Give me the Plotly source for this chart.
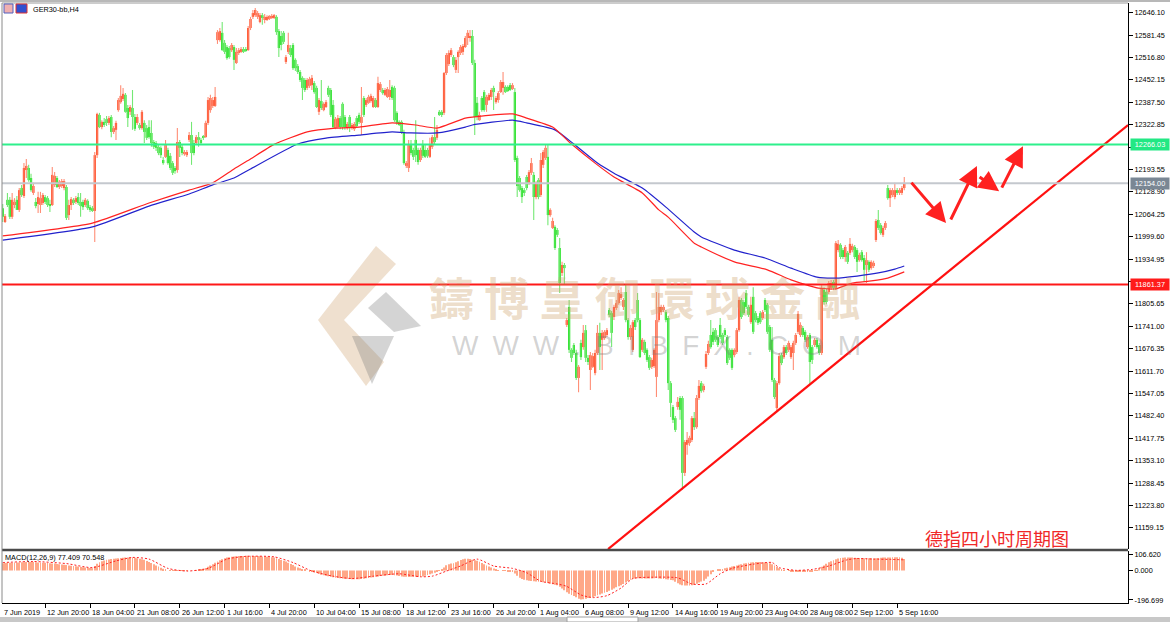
import plotly.graph_objects as go

# ---------------- data (GER30 H4) ----------------
opens = [
12082,12042,12106,12106,12057,12091,12106,12077,12140,12117,
12192,12198,12169,12126,12100,12094,12091,12097,12114,12111,
12094,12091,12149,12169,12143,12146,12140,12143,12062,12091,
12106,12100,12114,12100,12100,12091,12103,12085,12082,12074,
12235,12351,12316,12331,12339,12328,12345,12302,12308,12365,
12388,12397,12409,12371,12360,12371,12345,12328,12322,12313,
12328,12313,12316,12299,12273,12270,12259,12256,12221,12230,
12250,12233,12212,12198,12192,12273,12259,12238,12235,12279,
12293,12270,12270,12287,12279,12287,12287,12328,12365,12377,
12377,12567,12567,12588,12559,12547,12544,12538,12547,12501,
12530,12533,12541,12541,12538,12602,12634,12639,12634,12619,
12639,12625,12625,12628,12631,12631,12634,12593,12579,12588,
12504,12533,12544,12553,12510,12492,12475,12458,12452,12429,
12435,12437,12443,12429,12360,12391,12365,12374,12429,12423,
12380,12313,12316,12342,12383,12345,12313,12345,12313,12310,
12342,12351,12328,12400,12380,12386,12391,12374,12394,12374,
12423,12423,12409,12403,12403,12432,12429,12357,12331,12331,
12302,12204,12198,12264,12250,12279,12250,12221,12264,12250,
12250,12230,12259,12287,12285,12360,12360,12357,12472,12498,
12524,12518,12481,12518,12530,12533,12547,12573,12573,12579,
12501,12386,12336,12400,12417,12380,12394,12403,12429,12388,
12394,12417,12429,12432,12432,12437,12426,12417,12227,12169,
12140,12134,12172,12155,12184,12178,12114,12163,12120,12207,
12227,12230,12062,12025,12028,12019,11967,11895,11918,11745,
11797,11673,11687,11664,11592,11693,11681,11730,11650,11615,
11624,11606,11664,11722,11702,11707,11716,11788,11779,11768,
11794,11808,11823,11797,11840,11759,11710,11673,11759,11817,
11759,11673,11696,11673,11652,11624,11626,11595,11759,11782,
11788,11782,11765,11577,11508,11476,11508,11534,11534,11318,
11399,11404,11413,11476,11450,11534,11577,11557,11624,11664,
11716,11725,11730,11710,11745,11716,11730,11710,11673,11673,
11658,11667,11730,11817,11811,11837,11797,11753,11826,11779,
11765,11779,11765,11817,11803,11739,11702,11586,11505,11577,
11658,11652,11681,11673,11652,11664,11693,11725,11716,11736,
11725,11681,11716,11681,11687,11702,11687,11664,11846,11840,
11840,11852,11869,11852,11961,11976,11961,11941,11953,11953,
11961,11970,11961,11932,11955,11938,11918,11927,11909,11915,
11990,12048,12033,12005,12025,12140,12111,12120,12114,12134,
12126,12126,12140]

highs = [
12094,12065,12126,12114,12126,12111,12117,12140,12149,12212,
12224,12207,12181,12155,12111,12129,12129,12126,12120,12117,
12106,12201,12186,12175,12163,12166,12166,12149,12106,12114,
12111,12117,12126,12126,12106,12111,12108,12091,12088,12244,
12357,12357,12336,12342,12348,12348,12351,12319,12334,12400,
12437,12429,12414,12380,12380,12423,12354,12354,12328,12365,
12336,12322,12336,12336,12279,12276,12264,12261,12230,12279,
12256,12241,12218,12204,12313,12279,12264,12250,12250,12302,
12331,12279,12293,12302,12285,12293,12334,12403,12409,12403,
12432,12596,12602,12619,12567,12553,12550,12559,12553,12544,
12544,12547,12547,12547,12608,12634,12654,12660,12651,12645,
12645,12642,12639,12639,12642,12642,12639,12599,12593,12593,
12524,12588,12553,12559,12515,12498,12481,12463,12458,12458,
12461,12466,12449,12435,12400,12452,12388,12394,12435,12429,
12394,12345,12351,12348,12388,12351,12331,12351,12328,12331,
12348,12357,12432,12406,12400,12409,12412,12406,12400,12461,
12446,12429,12429,12432,12452,12437,12435,12362,12336,12336,
12308,12218,12279,12279,12256,12336,12256,12256,12279,12264,
12256,12285,12293,12345,12322,12365,12365,12475,12530,12538,
12544,12524,12518,12538,12553,12556,12579,12596,12596,12596,
12510,12403,12360,12406,12423,12409,12414,12429,12435,12406,
12420,12452,12475,12437,12437,12443,12443,12429,12233,12175,
12146,12140,12178,12192,12227,12186,12160,12169,12241,12250,
12267,12264,12082,12054,12033,12025,11996,11927,11924,11765,
11817,11678,11693,11673,11629,11702,11745,11745,11658,11667,
11664,11673,11745,11751,11730,11730,11736,11794,11785,11803,
11817,11846,11854,11823,11860,11765,11745,11759,11765,11837,
11765,11707,11702,11678,11658,11650,11678,11840,11837,11803,
11803,11788,11771,11583,11514,11482,11537,11540,11540,11413,
11436,11425,11482,11494,11543,11586,11583,11575,11670,11699,
11759,11736,11736,11716,11765,11722,11736,11716,11678,11678,
11678,11736,11826,11823,11817,11846,11803,11826,11854,11785,
11771,11785,11788,11823,11808,11745,11739,11592,11583,11664,
11664,11687,11687,11699,11687,11699,11722,11785,11753,11742,
11730,11716,11722,11687,11707,11707,11693,11860,11854,11849,
11872,11875,11875,11987,11990,11981,11967,11976,11958,11996,
11979,11976,11967,11953,11961,11947,11955,11932,11932,11930,
12051,12077,12039,12031,12045,12149,12140,12140,12155,12140,
12140,12146,12172]

lows = [
12042,12039,12085,12051,12051,12082,12077,12071,12114,12111,
12169,12158,12129,12120,12082,12068,12068,12091,12094,12085,
12071,12088,12143,12140,12137,12140,12134,12048,12048,12077,
12091,12094,12091,12057,12077,12085,12077,12071,12071,11984,
12227,12313,12310,12316,12319,12322,12287,12296,12279,12360,
12383,12391,12357,12316,12351,12308,12305,12322,12308,12308,
12270,12279,12282,12259,12253,12247,12235,12227,12207,12227,
12207,12192,12178,12181,12184,12230,12235,12233,12230,12273,
12207,12235,12264,12259,12264,12279,12285,12322,12357,12371,
12374,12556,12562,12536,12527,12510,12513,12533,12481,12498,
12524,12530,12530,12533,12536,12596,12628,12634,12628,12616,
12611,12616,12622,12625,12628,12628,12582,12518,12538,12556,
12498,12527,12518,12481,12478,12469,12446,12394,12417,12423,
12429,12423,12412,12371,12351,12365,12362,12371,12403,12345,
12313,12310,12313,12310,12308,12308,12308,12302,12308,12305,
12313,12325,12293,12345,12374,12383,12386,12371,12371,12371,
12417,12409,12406,12400,12394,12394,12331,12322,12319,12296,
12207,12198,12186,12235,12221,12215,12207,12215,12227,12227,
12227,12227,12253,12267,12279,12348,12345,12351,12466,12492,
12518,12489,12472,12472,12524,12524,12544,12553,12562,12495,
12293,12336,12334,12360,12360,12360,12391,12394,12365,12383,
12386,12414,12409,12414,12417,12420,12423,12215,12114,12129,
12097,12117,12134,12149,12178,12048,12108,12108,12114,12198,
12221,12033,12057,12022,11961,11999,11837,11886,11860,11739,
11664,11638,11658,11586,11551,11644,11673,11638,11629,11557,
11621,11600,11658,11615,11615,11702,11710,11768,11681,11759,
11788,11803,11817,11788,11753,11702,11702,11667,11730,11753,
11650,11667,11658,11638,11615,11618,11621,11537,11753,11774,
11782,11753,11557,11479,11462,11436,11500,11471,11269,11309,
11370,11396,11407,11442,11445,11528,11549,11551,11618,11658,
11676,11687,11696,11681,11704,11687,11710,11629,11644,11615,
11652,11661,11725,11762,11774,11791,11768,11748,11719,11753,
11745,11748,11759,11782,11719,11667,11580,11531,11494,11572,
11629,11647,11658,11667,11647,11615,11687,11719,11710,11710,
11696,11676,11572,11632,11681,11676,11658,11658,11803,11805,
11834,11846,11846,11846,11955,11935,11935,11927,11921,11947,
11955,11935,11898,11927,11927,11869,11866,11898,11904,11909,
11984,12019,12005,11999,12019,12106,12085,12114,12108,12120,
12120,12120,12134]

closes = [
12057,12059,12091,12057,12106,12100,12077,12134,12120,12198,
12204,12163,12134,12146,12088,12114,12111,12120,12100,12091,
12088,12178,12175,12143,12158,12160,12160,12054,12091,12108,
12097,12111,12097,12088,12085,12106,12082,12077,12074,12235,
12354,12316,12331,12322,12328,12342,12302,12313,12328,12394,
12406,12412,12360,12342,12374,12345,12311,12345,12313,12360,
12302,12285,12287,12270,12259,12256,12241,12235,12212,12264,
12212,12198,12184,12189,12273,12256,12241,12244,12244,12293,
12241,12241,12287,12279,12270,12285,12328,12394,12400,12394,
12403,12590,12593,12538,12533,12515,12518,12553,12510,12533,
12538,12541,12533,12536,12602,12628,12645,12654,12645,12639,
12631,12634,12634,12637,12637,12639,12590,12544,12553,12562,
12518,12553,12524,12486,12486,12475,12452,12429,12423,12452,
12455,12458,12417,12374,12394,12371,12383,12388,12409,12351,
12316,12339,12342,12316,12316,12316,12325,12313,12322,12325,
12319,12331,12345,12351,12394,12403,12406,12400,12374,12443,
12440,12414,12423,12426,12423,12400,12336,12328,12322,12302,
12212,12212,12264,12241,12230,12235,12215,12250,12233,12230,
12233,12264,12287,12273,12308,12351,12351,12472,12524,12530,
12538,12495,12510,12533,12547,12550,12573,12588,12579,12501,
12345,12348,12351,12365,12365,12403,12409,12423,12417,12400,
12414,12446,12446,12417,12420,12423,12437,12221,12146,12134,
12114,12126,12140,12186,12212,12114,12155,12114,12221,12244,
12256,12062,12077,12045,11967,12005,11866,11918,11909,11759,
11673,11650,11664,11592,11624,11652,11722,11650,11638,11658,
11655,11664,11722,11681,11722,11725,11730,11774,11722,11797,
11808,11837,11834,11817,11759,11710,11736,11753,11739,11759,
11652,11702,11664,11644,11621,11644,11673,11759,11797,11797,
11797,11759,11577,11520,11471,11442,11523,11500,11318,11407,
11413,11419,11476,11450,11534,11569,11554,11569,11661,11690,
11681,11696,11702,11687,11710,11693,11716,11635,11650,11621,
11673,11730,11817,11768,11779,11797,11774,11803,11725,11759,
11751,11753,11782,11788,11725,11673,11586,11537,11577,11655,
11635,11681,11664,11693,11681,11693,11716,11777,11745,11716,
11702,11710,11638,11644,11702,11681,11664,11852,11811,11811,
11866,11866,11852,11981,11979,11941,11941,11970,11927,11979,
11973,11941,11927,11947,11932,11904,11932,11904,11927,11924,
12045,12025,12010,12025,12039,12111,12134,12134,12134,12126,
12134,12140,12154]

macd_hist = [
49,50,51,52,52,53,54,54,55,55,
56,56,56,56,55,54,53,52,51,50,
49,47,46,44,42,40,38,36,34,32,
30,28,26,24,22,20,18,16,15,30,
45,55,62,67,71,74,77,78,80,82,
84,85,86,87,87,87,85,82,78,75,
71,64,57,50,42,33,26,19,12,6,
0,-2,-3,-3,-3,-3,-3,-2,-1,0,
0,0,2,4,7,11,17,25,33,42,
52,60,68,75,81,87,89,91,93,95,
96,97,97,98,98,98,97,97,96,95,
94,93,92,90,89,87,82,76,70,65,
60,52,44,36,27,20,15,9,4,0,
-5,-9,-12,-17,-22,-28,-32,-35,-39,-42,
-45,-48,-50,-52,-53,-55,-56,-57,-58,-58,
-58,-58,-57,-55,-52,-50,-47,-45,-42,-40,
-37,-35,-33,-31,-30,-30,-31,-33,-36,-40,
-42,-42,-43,-42,-42,-42,-42,-42,-40,-35,
-30,-25,-20,-15,-10,-3,5,20,35,42,
46,49,55,62,70,75,78,78,76,72,
68,65,58,50,42,34,26,20,14,8,
3,0,-1,-3,-5,-6,-8,-20,-35,-48,
-57,-62,-65,-68,-70,-72,-74,-75,-76,-78,
-81,-84,-88,-92,-96,-99,-108,-120,-132,-145,
-155,-163,-170,-178,-188,-194,-192,-188,-184,-180,
-178,-172,-166,-160,-154,-148,-144,-136,-128,-120,
-112,-106,-99,-90,-80,-70,-62,-55,-53,-52,
-52,-53,-53,-53,-53,-53,-52,-51,-53,-55,
-57,-59,-61,-63,-65,-75,-85,-93,-99,-100,
-100,-100,-99,-95,-88,-80,-74,-69,-55,-40,
-25,-8,0,4,7,10,15,19,22,26,
30,34,38,42,46,49,52,54,55,56,
56,56,55,53,51,49,42,33,24,15,
8,3,0,-3,-5,-7,-8,-8,-7,-6,
-6,-5,-5,-4,-3,2,15,25,33,45,
55,62,68,75,80,83,85,86,87,87,
86,85,84,84,83,82,82,81,81,80,
82,84,85,86,86,87,87,88,88,89,
88,85,77]

signal_idx = [0, 13, 27, 38, 48, 55, 62, 70, 78, 87, 95, 103, 115, 123, 131, 140, 148, 157, 168,
              177, 182, 188, 194, 201, 208, 216, 222, 228, 235, 239, 245, 250, 256, 262, 267, 275,
              286, 292, 298, 304, 309, 318, 326, 329, 336, 343, 350, 358, 362, 369, 376, 382]
signal_val = [53, 60, 46, 19, 64, 87, 76, 14, -4, 14, 76, 94, 91, 53, -4, -38, -54, -38, -22,
              -42, -38, -4, 30, 76, 30, 14, -15, -72, -90, -106, -163, -181, -168, -117, -54, -45,
              -49, -90, -90, -22, 14, 42, 53, 19, 1, 7, 30, 72, 80, 76, 74, 71]

ma_red_idx = [0, 38, 62, 79, 89, 98, 105, 115, 129, 141, 151, 165, 175, 184, 196, 199, 216, 222,
              233, 241, 251, 259, 271, 278, 282, 293, 296, 310, 324, 334, 345, 353, 360, 368, 375, 382]
ma_red_val = [12002, 12039, 12097, 12134, 12155, 12195, 12224, 12266, 12302, 12313, 12316, 12328,
              12322, 12313, 12342, 12345, 12354, 12342, 12316, 12267, 12212, 12172, 12126, 12077,
              12056, 11981, 11970, 11927, 11904, 11875, 11852, 11849, 11866, 11872, 11880, 11898]
ma_blue_idx = [0, 38, 62, 79, 89, 98, 105, 125, 137, 151, 165, 173, 184, 196, 199, 216, 222, 234,
               242, 252, 259, 271, 281, 293, 296, 310, 323, 334, 345, 353, 362, 371, 378, 382]
ma_blue_val = [11990, 12028, 12088, 12123, 12149, 12169, 12195, 12267, 12284, 12293, 12302, 12299,
               12299, 12316, 12322, 12336, 12328, 12308, 12267, 12212, 12183, 12140, 12085, 12013,
               11999, 11961, 11938, 11909, 11883, 11880, 11886, 11895, 11906, 11915]

level_green = 12266.03
level_gray = 12154.00
level_red = 11861.37

trend_x = [256.5, 476.8]
trend_y = [11098, 12322]

arrow_tail_x = [384.5, 401.4, 413.3, 423.0]
arrow_tail_y = [12160, 12045, 12175, 12137]
arrow_head_x = [399.7, 412.8, 422.2, 432.3]
arrow_head_y = [12039, 12204, 12131, 12261]

x_label_idx = [-1, 18, 37, 56, 75, 94, 113, 132, 151, 170, 189, 208, 227, 246, 265, 284, 303,
               322, 341, 360, 379]
x_label_text = ["7 Jun 2019", "12 Jun 20:00", "18 Jun 04:00", "21 Jun 08:00", "26 Jun 12:00",
                "1 Jul 16:00", "4 Jul 20:00", "10 Jul 04:00", "15 Jul 08:00", "18 Jul 12:00",
                "23 Jul 16:00", "26 Jul 20:00", "1 Aug 04:00", "6 Aug 08:00", "9 Aug 12:00",
                "14 Aug 16:00", "19 Aug 20:00", "23 Aug 04:00", "28 Aug 08:00", "2 Sep 12:00",
                "5 Sep 16:00"]
y_tick_vals = [12646.10, 12581.45, 12516.80, 12452.15, 12387.50, 12322.85, 12258.20, 12193.55,
               12128.90, 12064.25, 11999.60, 11934.95, 11870.30, 11805.65, 11741.00, 11676.35,
               11611.70, 11547.05, 11482.40, 11417.75, 11353.10, 11288.45, 11223.80, 11159.15]
y_tick_hidden = [12258.20, 11870.30]   # covered by the price boxes in the picture
macd_tick_vals = [106.620, 0.0, -196.699]
macd_tick_text = ["106.620", "0.000", "-196.699"]

# ---------------- styling ----------------
W, H = 1170, 622
ML, MR, MT, MB = 2, 42, 3, 19
PW, PH = W - ML - MR, H - MT - MB

def pxx(p):
    return (p - ML) / PW

def pxy(p):
    return (H - MB - p) / PH

X_RANGE = [-0.3, 476.8]
Y_RANGE = [11098.3, 12674.1]
M_RANGE = [-217.0, 130.0]

UP_BODY, DN_BODY = '#FF3A10', '#10E010'
UP_WICK, DN_WICK = '#FF8E76', '#74E874'
FONT = 'Liberation Sans, Arial, sans-serif'
TS = 7.3

N = len(closes)
idx = list(range(N))

fig = go.Figure()

up_x, up_y, dn_x, dn_y = [], [], [], []
for i, (o, h, l, c) in enumerate(zip(opens, highs, lows, closes)):
    if c >= o:
        up_x += [i, i, None]; up_y += [l, h, None]
    else:
        dn_x += [i, i, None]; dn_y += [l, h, None]
fig.add_trace(go.Scatter(x=up_x, y=up_y, mode='lines', line=dict(color=UP_WICK, width=1.1),
                         hoverinfo='skip', showlegend=False, xaxis='x', yaxis='y'))
fig.add_trace(go.Scatter(x=dn_x, y=dn_y, mode='lines', line=dict(color=DN_WICK, width=1.1),
                         hoverinfo='skip', showlegend=False, xaxis='x', yaxis='y'))

body_base = [min(o, c) for o, c in zip(opens, closes)]
body_h = [max(abs(c - o), 2.5) for o, c in zip(opens, closes)]
body_col = [UP_BODY if c >= o else DN_BODY for o, c in zip(opens, closes)]
fig.add_trace(go.Bar(x=idx, y=body_h, base=body_base, width=0.95,
                     marker=dict(color=body_col, line=dict(width=0)),
                     hoverinfo='skip', showlegend=False, xaxis='x', yaxis='y'))

fig.add_trace(go.Scatter(x=ma_blue_idx, y=ma_blue_val, mode='lines',
                         line=dict(color='#2222CC', width=1.2, shape='spline', smoothing=0.5),
                         hoverinfo='skip', showlegend=False, xaxis='x', yaxis='y'))
fig.add_trace(go.Scatter(x=ma_red_idx, y=ma_red_val, mode='lines',
                         line=dict(color='#FF2222', width=1.2, shape='spline', smoothing=0.5),
                         hoverinfo='skip', showlegend=False, xaxis='x', yaxis='y'))
fig.add_trace(go.Scatter(x=trend_x, y=trend_y, mode='lines', line=dict(color='#FF1010', width=2.2),
                         hoverinfo='skip', showlegend=False, xaxis='x', yaxis='y'))

fig.add_trace(go.Bar(x=idx, y=macd_hist, width=0.38, marker=dict(color='#FFA888', line=dict(width=0)),
                     hoverinfo='skip', showlegend=False, xaxis='x2', yaxis='y2'))
fig.add_trace(go.Scatter(x=signal_idx, y=signal_val, mode='lines',
                         line=dict(color='#FF2020', width=1, dash='2px,2px', shape='spline', smoothing=0.6),
                         hoverinfo='skip', showlegend=False, xaxis='x2', yaxis='y2'))

BEIGE = 'rgba(205,160,105,0.32)'
GREY = 'rgba(120,120,120,0.32)'

def poly(pts, col):
    d = 'M ' + ' L '.join(f'{pxx(x):.5f},{pxy(y):.5f}' for x, y in pts) + ' Z'
    return dict(type='path', xref='paper', yref='paper', path=d, fillcolor=col, line=dict(width=0),
                layer='below')

shapes = []
# watermark logo (approximate)
shapes += [
    poly([(376, 246), (396, 264), (344, 320), (318, 320)], BEIGE),
    poly([(318, 320), (344, 320), (384, 362), (366, 386)], BEIGE),
    poly([(386, 292), (421, 326), (394, 332), (368, 308)], GREY),
    poly([(352, 336), (394, 336), (372, 384)], GREY),
]
for lvl, col in [(level_green, '#2EF08C'), (level_gray, '#C4C8CE'), (level_red, '#FF1818')]:
    shapes.append(dict(type='line', xref='paper', x0=0, x1=1, yref='y', y0=lvl, y1=lvl,
                       line=dict(color=col, width=2), layer='above'))
# pane borders and window frame
shapes += [
    dict(type='line', xref='paper', yref='paper', x0=0, x1=1, y0=pxy(550), y1=pxy(550),
         line=dict(color='#4A4A4A', width=2.5)),
    dict(type='line', xref='paper', yref='paper', x0=0, x1=0, y0=0, y1=1,
         line=dict(color='#8A8A8A', width=1)),
    dict(type='line', xref='paper', yref='paper', x0=0, x1=1, y0=1, y1=1,
         line=dict(color='#9A9A9A', width=1)),
    dict(type='rect', xref='paper', yref='paper', x0=pxx(0), x1=pxx(1170), y0=pxy(2), y1=pxy(0),
         line=dict(width=0), fillcolor='#B8B8B8'),
    dict(type='rect', xref='paper', yref='paper', x0=pxx(0), x1=pxx(1170), y0=pxy(622), y1=pxy(617),
         line=dict(width=0), fillcolor='#C8C8C8'),
    dict(type='rect', xref='paper', yref='paper', x0=pxx(567), x1=pxx(638), y0=pxy(622), y1=pxy(617),
         line=dict(color='#A0A0A0', width=1), fillcolor='#FFFFFF'),
    dict(type='rect', xref='paper', yref='paper', x0=pxx(4), x1=pxx(13), y0=pxy(13), y1=pxy(4),
         line=dict(color='#5060C0', width=1), fillcolor='#F0B0B0'),
    dict(type='rect', xref='paper', yref='paper', x0=pxx(16), x1=pxx(27), y0=pxy(13), y1=pxy(4),
         line=dict(color='#E03030', width=1), fillcolor='#3050D0'),
]

ann = []
# value boxes on the price scale
for lvl, bg in [(level_green, '#22E884'), (level_gray, '#7A8794'), (level_red, '#FF1A1A')]:
    ann.append(dict(x=1, xref='paper', y=lvl, yref='y', xanchor='left', yanchor='middle', xshift=2,
                    text=f"{lvl:.2f}", showarrow=False, bgcolor=bg, borderpad=1, width=36,
                    font=dict(family=FONT, size=TS, color='white')))
# time labels
for ti, tt in zip(x_label_idx, x_label_text):
    if ti < 0:
        ann.append(dict(x=0, xref='paper', y=0, yref='paper', xanchor='left', yanchor='top', yshift=-3,
                        xshift=0, text=tt, showarrow=False, font=dict(family=FONT, size=TS, color='black')))
    else:
        ann.append(dict(x=ti, xref='x', y=0, yref='paper', xanchor='left', yanchor='top', yshift=-3,
                        xshift=0, text=tt, showarrow=False, font=dict(family=FONT, size=TS, color='black')))
# arrows
for tx, ty, hx, hy in zip(arrow_tail_x, arrow_tail_y, arrow_head_x, arrow_head_y):
    ann.append(dict(x=hx, y=hy, xref='x', yref='y', ax=tx, ay=ty, axref='x', ayref='y', text='',
                    showarrow=True, arrowhead=2, arrowsize=1.35, arrowwidth=3, arrowcolor='#FF2020',
                    standoff=0, startstandoff=0))
# texts
ann += [
    dict(x=pxx(31), xref='paper', y=pxy(9), yref='paper', xanchor='left', yanchor='middle',
         text='GER30-bb,H4', showarrow=False, font=dict(family=FONT, size=TS, color='black')),
    dict(x=pxx(3), xref='paper', y=pxy(557), yref='paper', xanchor='left', yanchor='middle',
         text='MACD(12,26,9) 77.409 70.548', showarrow=False, font=dict(family=FONT, size=TS, color='black')),
    dict(x=pxx(997), xref='paper', y=pxy(538), yref='paper', xanchor='center', yanchor='middle',
         text='德指四小时周期图', showarrow=False,
         font=dict(family='Noto Sans CJK SC', size=18, color='#F02828')),
    dict(x=pxx(645), xref='paper', y=pxy(296), yref='paper', xanchor='center', yanchor='middle',
         text='鑄 博 皇 御 環 球 金 融', showarrow=False,
         font=dict(family='Noto Sans CJK TC', size=45, weight=700, color='rgba(205,160,105,0.36)')),
    dict(x=pxx(656), xref='paper', y=pxy(345), yref='paper', xanchor='center', yanchor='middle',
         text='W\u2002W\u2002W\u2002.\u2002B\u2002I\u2002B\u2002F\u2002X\u2002.\u2002C\u2002O\u2002M',
         showarrow=False, font=dict(family='Liberation Sans', size=28, color='rgba(120,120,120,0.32)')),
]

axis_font = dict(family=FONT, size=TS, color='black')
fig.update_layout(
    width=W, height=H, margin=dict(l=ML, r=MR, t=MT, b=MB),
    paper_bgcolor='white', plot_bgcolor='white', showlegend=False, barmode='overlay',
    xaxis=dict(domain=[0, 1], anchor='y', range=X_RANGE, showticklabels=False, showgrid=False,
               zeroline=False, ticks='', showline=False, fixedrange=True),
    xaxis2=dict(domain=[0, 1], anchor='y2', range=X_RANGE, matches='x', tickvals=x_label_idx[1:],
                showticklabels=False, ticks='outside', ticklen=4, tickcolor='black', showgrid=False,
                zeroline=False, showline=True, linecolor='black', linewidth=1),
    yaxis=dict(domain=[pxy(549), 1], anchor='x', side='right', range=Y_RANGE, tickvals=y_tick_vals,
               ticktext=['' if v in y_tick_hidden else f"{v:.2f}" for v in y_tick_vals],
               ticks='outside', ticklen=4,
               tickcolor='black', showline=True, linecolor='black', linewidth=1, showgrid=False,
               zeroline=False, tickfont=axis_font, automargin=False),
    yaxis2=dict(domain=[0, pxy(551)], anchor='x2', side='right', range=M_RANGE,
                tickvals=macd_tick_vals, ticktext=macd_tick_text, ticks='outside', ticklen=4,
                tickcolor='black', showline=True, linecolor='black', linewidth=1, showgrid=False,
                zeroline=False, tickfont=axis_font, automargin=False),
    shapes=shapes, annotations=ann,
)

fig.write_html("out.html", config={'displayModeBar': False},
               post_script="document.body.style.margin='0px';document.body.style.overflow='hidden';")
